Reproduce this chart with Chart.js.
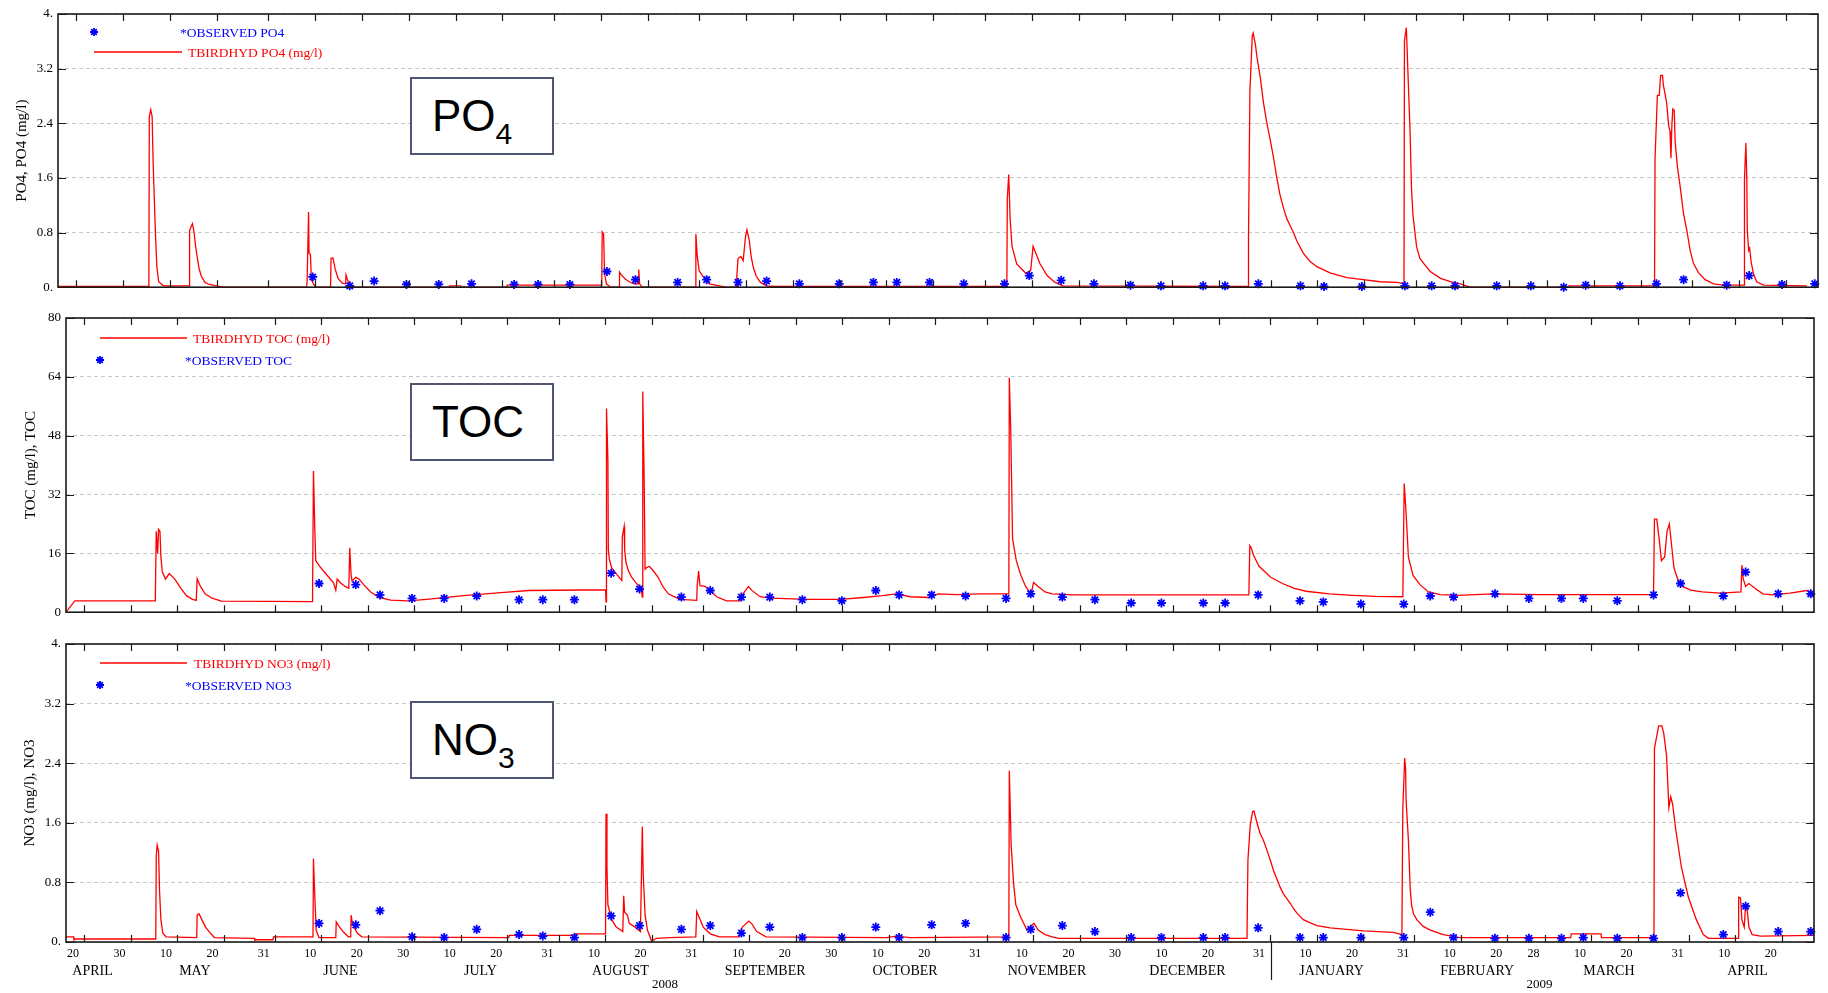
<!DOCTYPE html>
<html>
<head>
<meta charset="utf-8">
<title>TBIRDHYD PO4, TOC, NO3</title>
<script src="https://cdn.jsdelivr.net/npm/chart.js@4.4.1/dist/chart.umd.min.js"></script>
<style>
  html, body { margin: 0; padding: 0; background: #fff; }
  #page { position: relative; width: 1828px; height: 993px; overflow: hidden; }
  canvas { position: absolute; left: 0; }
  .tag { position: absolute; width: 144px; height: 78px; box-sizing: border-box; border: 2px solid #4f5674; background: #fff;
         font: 44px/74px "Liberation Sans", Arial, sans-serif; color: #000; padding-left: 20px; white-space: nowrap; }
  .tag span { font-size: 30px; position: relative; top: 13px; }
</style>
</head>
<body>
<div id="page">
  <canvas id="po4Chart" width="1828" height="300" style="top:0"></canvas>
  <canvas id="tocChart" width="1828" height="325" style="top:300px"></canvas>
  <canvas id="no3Chart" width="1828" height="368" style="top:625px"></canvas>
  <div class="tag" style="left:410px;top:77px">PO<span>4</span></div>
  <div class="tag" style="left:410px;top:383px">TOC</div>
  <div class="tag" style="left:410px;top:701px">NO<span>3</span></div>
</div>
<script>
// x values are days counted from 20 April 2008 (day 0)
const dayTicks = [0, 10, 20, 30, 41, 51, 61, 71, 81, 91, 102, 112, 122, 133, 143, 153, 163, 173, 183, 194, 204, 214, 224,
    234, 244, 255, 265, 275, 286, 296, 306, 314, 324, 334, 345, 355, 365];
const dayTickLabels = ['20', '30', '10', '20', '31', '10', '20', '30', '10', '20', '31', '10', '20', '31', '10', '20', '30',
    '10', '20', '31', '10', '20', '30', '10', '20', '31', '10', '20', '31', '10', '20', '28', '10', '20', '31', '10', '20'];
const monthDays = [4.2, 26.2, 57.5, 87.6, 117.7, 148.8, 178.9, 209.4, 239.6, 270.6, 301.9, 330.2, 360.0];
const monthNames = ['APRIL', 'MAY', 'JUNE', 'JULY', 'AUGUST', 'SEPTEMBER', 'OCTOBER', 'NOVEMBER', 'DECEMBER',
    'JANUARY', 'FEBRUARY', 'MARCH', 'APRIL'];
const yearDays = [127.3, 315.3];
const yearNames = ['2008', '2009'];

// sampling days of the observations (same for all three variables)
const obsDays = [52.9, 60.8, 66.0, 72.9, 79.8, 86.8, 95.9, 101.0, 107.8, 115.7, 121.8, 130.8, 137.0, 143.7, 149.8, 156.8,
    165.3, 172.6, 177.6, 184.6, 191.9, 200.6, 205.9, 212.7, 219.7, 227.5, 234.0, 243.0, 247.7, 254.8, 263.8, 268.8, 276.9,
    286.1, 291.8, 296.8, 305.7, 313.0, 320.0, 324.7, 332.0, 339.8, 345.6, 354.8, 359.6, 366.6, 373.6];
const po4Obs = [0.15, 0.02, 0.09, 0.04, 0.04, 0.05, 0.04, 0.04, 0.04, 0.23, 0.11, 0.07, 0.11, 0.07, 0.09, 0.05, 0.05, 0.07,
    0.07, 0.07, 0.05, 0.05, 0.17, 0.10, 0.05, 0.03, 0.02, 0.02, 0.02, 0.05, 0.02, 0.01, 0.01, 0.02, 0.02, 0.02, 0.02, 0.02,
    0.00, 0.03, 0.02, 0.05, 0.11, 0.03, 0.17, 0.04, 0.05];
const tocObs = [7.8, 7.5, 4.7, 3.75, 3.75, 4.4, 3.4, 3.4, 3.4, 10.6, 6.3, 4.1, 5.9, 4.1, 4.1, 3.4, 3.1, 5.9, 4.7, 4.7, 4.4,
    3.75, 5.0, 4.1, 3.4, 2.5, 2.5, 2.5, 2.5, 4.7, 3.1, 2.8, 2.2, 2.2, 4.4, 4.1, 5.0, 3.75, 3.75, 3.75, 3.1, 4.7, 7.8, 4.4,
    10.9, 5.0, 5.0];
const no3Obs = [0.25, 0.23, 0.42, 0.07, 0.06, 0.17, 0.10, 0.08, 0.06, 0.35, 0.22, 0.17, 0.22, 0.12, 0.20, 0.06, 0.06, 0.20,
    0.06, 0.23, 0.25, 0.06, 0.17, 0.22, 0.14, 0.06, 0.06, 0.06, 0.06, 0.19, 0.06, 0.06, 0.06, 0.06, 0.40, 0.06, 0.05, 0.05,
    0.05, 0.06, 0.05, 0.05, 0.66, 0.10, 0.48, 0.14, 0.14];

// simulated series, [day, value]
const po4Sim = [[-1.5, 0.01], [17.9, 0.01], [18.0, 2.5], [18.3, 2.6], [18.6, 2.5], [18.8, 1.85], [19.3, 0.8], [19.6, 0.3],
    [20.0, 0.08], [21.0, 0.02], [26.5, 0.02], [26.6, 0.83], [27.2, 0.93], [27.5, 0.83], [27.9, 0.59], [28.2, 0.45],
    [28.6, 0.28], [29.1, 0.16], [29.9, 0.07], [30.8, 0.04], [32.6, 0.015], [33.4, 0], [51.6, 0], [51.7, 0.11], [52.0, 1.1],
    [52.1, 0.5], [52.4, 0.48], [52.6, 0.11], [53.1, 0.04], [53.5, 0], [56.7, 0], [56.8, 0.42], [57.2, 0.43], [57.7, 0.26],
    [58.3, 0.13], [59.2, 0.06], [59.9, 0.05], [60.0, 0.18], [60.3, 0.11], [60.8, 0.03], [61.5, 0], [82.0, 0], [82.1, 0.02],
    [84.5, 0.02], [84.6, 0], [94.3, 0], [94.4, 0.03], [114.6, 0.03], [114.7, 0.81], [115.0, 0.78], [115.2, 0.2],
    [115.6, 0.05], [116.5, 0], [118.3, 0], [118.4, 0.22], [118.8, 0.18], [119.6, 0.12], [120.5, 0.08], [121.5, 0.05],
    [122.4, 0.05], [122.5, 0.26], [122.7, 0.05], [123.2, 0], [134.6, 0], [134.7, 0.78], [135.0, 0.45], [135.4, 0.24],
    [136.3, 0.15], [137.6, 0.05], [141.1, 0], [143.3, 0], [143.4, 0.11], [143.7, 0.42], [144.3, 0.45], [144.8, 0.39],
    [145.3, 0.74], [145.6, 0.84], [146.1, 0.69], [146.5, 0.45], [147.0, 0.28], [147.6, 0.16], [148.5, 0.07], [149.8, 0.02],
    [151.5, 0.01], [201.1, 0.01], [201.2, 1.3], [201.5, 1.65], [201.8, 1.0], [202.2, 0.6], [203.2, 0.34], [205.2, 0.2],
    [206.2, 0.25], [206.7, 0.6], [208.2, 0.34], [209.7, 0.17], [211.4, 0.07], [213.1, 0.02], [252.6, 0.01], [252.7, 0.73],
    [253.0, 2.87], [253.5, 3.68], [253.7, 3.72], [254.2, 3.54], [254.5, 3.37], [255.2, 3.08], [255.9, 2.70], [256.6, 2.41],
    [257.3, 2.17], [258.0, 1.91], [258.7, 1.62], [259.4, 1.36], [260.2, 1.15], [260.9, 1.0], [261.6, 0.9], [262.3, 0.8],
    [263.0, 0.68], [264.4, 0.5], [265.8, 0.38], [267.3, 0.3], [270.1, 0.21], [273.7, 0.14], [277.2, 0.11], [280.8, 0.08],
    [284.4, 0.07], [285.9, 0.05], [286.0, 3.61], [286.4, 3.80], [286.6, 3.42], [286.9, 2.84], [287.2, 2.27], [287.5, 1.45],
    [287.8, 1.07], [288.1, 0.88], [288.6, 0.59], [289.3, 0.42], [290.1, 0.35], [291.5, 0.23], [293.7, 0.13], [295.8, 0.08],
    [297.9, 0.05], [300.0, 0], [321.0, 0], [321.1, 0.02], [339.4, 0.02], [339.5, 1.87], [340.0, 2.81], [340.4, 2.81],
    [340.7, 3.10], [341.1, 3.10], [341.3, 2.95], [341.7, 2.81], [342.0, 2.69], [342.4, 2.37], [342.7, 2.28], [342.9, 1.89],
    [343.1, 2.37], [343.3, 2.61], [343.6, 2.59], [343.8, 2.13], [344.3, 1.75], [344.8, 1.51], [345.6, 1.07], [346.3, 0.83],
    [347.0, 0.54], [347.7, 0.35], [348.8, 0.21], [350.2, 0.11], [352.0, 0.05], [354.1, 0.03], [358.5, 0.03], [358.6, 1.58],
    [358.9, 2.11], [359.1, 1.58], [359.2, 0.83], [359.5, 0.54], [359.7, 0.57], [360.0, 0.38], [360.5, 0.2], [361.2, 0.08],
    [362.7, 0.03], [371.9, 0.02]];

const tocSim = [[-1.5, 0], [0.4, 3.1], [17.7, 3.1], [17.9, 22], [18.2, 16], [18.4, 22.5], [18.7, 22], [18.9, 15], [19.2, 11],
    [19.9, 9], [20.7, 10.5], [21.9, 9], [23.2, 6.5], [24.4, 4.5], [25.7, 3.5], [26.5, 3.2], [26.7, 9.1], [27.4, 7], [28.4, 5],
    [29.9, 3.8], [31.9, 3.0], [51.5, 2.9], [51.7, 38.4], [52.0, 22], [52.2, 14], [53.0, 12.5], [54.0, 11], [55.0, 9.5],
    [56.0, 8], [56.5, 6], [56.8, 9], [57.5, 8], [58.5, 7], [59.3, 6.5], [59.5, 17.5], [59.8, 10], [60.0, 8.5], [60.8, 9.5],
    [61.5, 9], [62.5, 7.5], [64.0, 5.5], [65.8, 4], [68.3, 3.3], [72.0, 3.1], [76.0, 3.5], [84.0, 4.5], [92.0, 5.3],
    [98.0, 5.9], [114.5, 6.1], [114.6, 2.8], [114.7, 55.4], [115.0, 41.6], [115.1, 17.0], [115.3, 14.5], [115.8, 12.1],
    [116.9, 10.3], [118.0, 8.6], [118.1, 20.6], [118.5, 23.3], [118.6, 17.0], [118.9, 13.5], [119.4, 11.3], [120.1, 9.5],
    [121.2, 7.7], [122.1, 6.8], [122.4, 4.1], [122.5, 60.0], [122.8, 35.8], [123.0, 11.7], [123.3, 12.1], [123.9, 12.5],
    [124.8, 11.2], [125.8, 9.5], [126.9, 6.8], [128.0, 5.0], [129.1, 4.3], [130.5, 3.5], [134.1, 3.2], [134.2, 7.2],
    [134.5, 11.2], [134.8, 7.2], [135.9, 7.0], [137.0, 5.9], [138.4, 4.2], [140.5, 3.1], [143.4, 3.1], [143.8, 4.5],
    [145.2, 7.0], [145.9, 6.0], [147.7, 4.2], [150, 3.8], [158, 3.5], [165, 3.5], [170, 4.0], [174, 4.5], [177, 5.0],
    [180, 4.2], [184, 4.0], [186, 5.0], [190, 4.8], [195, 5.0], [201.2, 5.0], [201.3, 63.75], [201.6, 50], [202.0, 20],
    [202.8, 14], [203.8, 10], [204.8, 7], [205.6, 5.5], [206.1, 5.5], [206.5, 8.1], [207.5, 7.0], [209, 5.5], [210.5, 5.0],
    [215, 4.7], [252.8, 4.7], [253.0, 18.1], [253.3, 17.5], [253.8, 15.5], [255.0, 12.5], [257.5, 9.5], [260.0, 7.8],
    [262.6, 6.5], [265.1, 5.7], [270.1, 5.0], [275.1, 4.6], [280.1, 4.3], [285.9, 4.2], [286.2, 35], [286.6, 27],
    [287.1, 15], [288.1, 10], [289.6, 7.5], [291.4, 5.5], [293.9, 4.8], [297.7, 4.6], [305.2, 5.0], [315.2, 4.8],
    [325.2, 4.8], [339.8, 4.8], [340.0, 25.3], [340.5, 25.3], [341.0, 20], [341.5, 14], [342.2, 15], [342.7, 22],
    [343.2, 24], [343.7, 18], [344.2, 12], [345.0, 9], [346.0, 7], [347.8, 6], [350.3, 5.5], [354.1, 5.2], [358.6, 5.5],
    [358.8, 12.8], [359.1, 9], [359.6, 7], [360.3, 7.8], [361.6, 6.5], [363.3, 5], [365.3, 4.7], [369.1, 5.2],
    [372.8, 5.9], [374.3, 5.0]];

const no3Sim = [[-1.5, 0.07], [0.1, 0.07], [0.2, 0.04], [17.8, 0.04], [17.9, 1.15], [18.1, 1.3], [18.4, 1.22], [18.6, 0.7],
    [18.9, 0.3], [19.3, 0.12], [20.0, 0.07], [26.6, 0.06], [26.7, 0.36], [27.1, 0.38], [27.7, 0.3], [28.5, 0.2],
    [29.4, 0.13], [30.4, 0.06], [39.0, 0.05], [39.1, 0.03], [43.0, 0.03], [43.1, 0.07], [51.6, 0.07], [51.7, 1.12],
    [52.0, 0.6], [52.3, 0.15], [52.9, 0.06], [56.5, 0.06], [56.6, 0.27], [57.3, 0.2], [58.2, 0.13], [59.2, 0.07],
    [59.7, 0.07], [59.8, 0.36], [60.1, 0.24], [61.1, 0.12], [62.1, 0.07], [93.7, 0.06], [93.8, 0.09], [108.0, 0.09],
    [108.1, 0.11], [114.5, 0.11], [114.6, 1.72], [114.8, 1.0], [115.0, 0.5], [115.8, 0.3], [116.8, 0.2], [118.2, 0.14],
    [118.4, 0.62], [118.6, 0.4], [119.2, 0.36], [119.6, 0.25], [120.6, 0.21], [122.0, 0.14], [122.4, 1.55], [122.6, 0.9],
    [123.0, 0.36], [123.5, 0.16], [124.4, 0.01], [125.4, 0.05], [128.3, 0.06], [133.9, 0.07], [134.1, 0.41], [134.5, 0.35],
    [135.5, 0.2], [137.0, 0.11], [139.0, 0.07], [143.2, 0.07], [143.9, 0.2], [145.3, 0.28], [146.0, 0.24], [147.0, 0.14],
    [149.0, 0.07], [175.0, 0.06], [177.0, 0.08], [180.0, 0.06], [201.2, 0.07], [201.3, 2.3], [201.7, 1.3], [202.2, 0.8],
    [202.7, 0.5], [203.7, 0.34], [205.1, 0.16], [206.6, 0.25], [207.5, 0.16], [209.0, 0.1], [210.5, 0.07], [211.9, 0.05],
    [252.4, 0.05], [252.6, 1.10], [253.1, 1.57], [253.6, 1.75], [253.9, 1.76], [254.5, 1.61], [255.2, 1.46], [255.9, 1.37],
    [256.7, 1.23], [257.4, 1.10], [258.1, 0.96], [258.8, 0.85], [259.5, 0.74], [260.2, 0.65], [261.0, 0.58], [261.7, 0.52],
    [262.4, 0.45], [263.1, 0.39], [264.5, 0.30], [265.9, 0.26], [267.4, 0.22], [270.3, 0.19], [273.8, 0.17], [277.4, 0.15],
    [283.9, 0.13], [285.7, 0.10], [285.9, 1.79], [286.3, 2.47], [286.5, 2.31], [286.6, 1.91], [287.1, 1.37], [287.5, 0.70],
    [287.8, 0.49], [288.2, 0.38], [288.9, 0.30], [290.3, 0.21], [291.8, 0.16], [294.6, 0.10], [298.2, 0.06], [322.0, 0.06],
    [322.1, 0.11], [328.5, 0.11], [328.6, 0.06], [339.9, 0.06], [340.0, 2.6], [340.9, 2.9], [341.6, 2.9], [342.0, 2.8],
    [342.6, 2.5], [343.1, 1.8], [343.5, 1.95], [343.9, 1.85], [344.6, 1.5], [345.8, 1.0], [347.3, 0.6], [349.0, 0.3],
    [350.5, 0.1], [351.6, 0.05], [358.0, 0.05], [358.1, 0.6], [358.5, 0.59], [358.8, 0.3], [359.3, 0.2], [359.6, 0.5],
    [359.9, 0.45], [360.3, 0.2], [361.0, 0.1], [362.8, 0.08], [374.3, 0.09]];

const po4Ticks = [0, 0.8, 1.6, 2.4, 3.2, 4];
const po4TickLabels = ['0.', '0.8', '1.6', '2.4', '3.2', '4.'];
const tocTicks = [0, 16, 32, 48, 64, 80];
const tocTickLabels = ['0', '16', '32', '48', '64', '80'];
const no3Ticks = [0, 0.8, 1.6, 2.4, 3.2, 4];
const no3TickLabels = ['0.', '0.8', '1.6', '2.4', '3.2', '4.'];

const serif = '"Liberation Serif", "Times New Roman", serif';
Chart.defaults.font.family = serif;
Chart.defaults.color = '#000';

const xMin = -1.5, xMax = 374.3;
const markShift = 2.4;      // tick marks sit a little right of their labels
const yearBreak = 257.5;    // divider between 2008 and 2009 under the bottom axis

function fixedTicks(values) {
    return scale => { scale.ticks = values.map(v => ({ value: v })); };
}

function drawStar(ctx, x, y, r) {
    const d = r * Math.SQRT1_2;
    ctx.beginPath();
    ctx.moveTo(x - r, y); ctx.lineTo(x + r, y);
    ctx.moveTo(x, y - r); ctx.lineTo(x, y + r);
    ctx.moveTo(x - d, y - d); ctx.lineTo(x + d, y + d);
    ctx.moveTo(x - d, y + d); ctx.lineTo(x + d, y - d);
    ctx.stroke();
}

// box around the plot, inward tick marks and the year divider
const framePlugin = {
    id: 'frame',
    afterDraw(chart, args, opts) {
        const { ctx, chartArea: a, scales } = chart;
        ctx.save();
        ctx.strokeStyle = '#1a1a1a';
        ctx.lineWidth = 1.2;
        ctx.beginPath();
        scales.x.ticks.forEach(t => {
            const px = Math.round(scales.x.getPixelForValue(t.value + markShift)) + 0.5;
            ctx.moveTo(px, a.top); ctx.lineTo(px, a.top + 7);
            ctx.moveTo(px, a.bottom); ctx.lineTo(px, a.bottom - 7);
        });
        scales.y.ticks.forEach(t => {
            const py = Math.round(scales.y.getPixelForValue(t.value)) + 0.5;
            ctx.moveTo(a.left, py); ctx.lineTo(a.left + 8, py);
            ctx.moveTo(a.right, py); ctx.lineTo(a.right - 8, py);
        });
        if (opts.divider) {
            const px = Math.round(scales.x.getPixelForValue(yearBreak)) + 0.5;
            ctx.moveTo(px, a.bottom); ctx.lineTo(px, a.bottom + 38);
        }
        ctx.stroke();
        ctx.lineWidth = 1.6;
        ctx.strokeRect(a.left, a.top, a.right - a.left, a.bottom - a.top);
        ctx.restore();
    }
};

// legend in the top left corner, drawn the way the source plot has it
const keyPlugin = {
    id: 'key',
    afterDraw(chart, args, opts) {
        const ctx = chart.ctx;
        ctx.save();
        ctx.font = '13.5px ' + serif;
        ctx.textBaseline = 'middle';
        opts.rows.forEach(r => {
            ctx.strokeStyle = r.color;
            ctx.fillStyle = r.color;
            if (r.kind === 'line') {
                ctx.lineWidth = 1.5;
                ctx.beginPath();
                ctx.moveTo(r.x0, r.y); ctx.lineTo(r.x1, r.y);
                ctx.stroke();
            } else {
                ctx.lineWidth = 1.8;
                drawStar(ctx, r.x0, r.y, 4);
            }
            ctx.fillText(r.text, r.tx, r.y + 1);
        });
        ctx.restore();
    }
};

function dayAxis(showLabels, height) {
    return {
        type: 'linear', min: xMin, max: xMax, position: 'bottom', weight: 0,
        grid: { display: false, drawTicks: false }, border: { display: false },
        afterBuildTicks: fixedTicks(dayTicks),
        afterFit: s => { s.height = height; },
        ticks: { display: showLabels, autoSkip: false, maxRotation: 0, padding: 5, font: { size: 12 },
                 callback: (v, i) => dayTickLabels[i] }
    };
}

function labelAxis(days, names, weight, height, padding, size) {
    return {
        type: 'linear', min: xMin, max: xMax, position: 'bottom', weight: weight,
        grid: { display: false, drawTicks: false }, border: { display: false },
        afterBuildTicks: fixedTicks(days),
        afterFit: s => { s.height = height; },
        ticks: { autoSkip: false, maxRotation: 0, padding: padding, font: { size: size },
                 callback: (v, i) => names[i] }
    };
}

function valueAxis(ticks, labels, max, title, width, titlePad) {
    return {
        type: 'linear', min: 0, max: max, position: 'left',
        afterBuildTicks: fixedTicks(ticks),
        afterFit: s => { s.width = width; },
        grid: { color: '#c8c8c8', lineWidth: 1, drawTicks: false },
        border: { display: false, dash: [4, 3] },
        ticks: { padding: 5, font: { size: 13 }, callback: (v, i) => labels[i] },
        title: { display: true, text: title, font: { size: 15 }, padding: { top: titlePad, bottom: 0 } }
    };
}

function obsSet(label, values) {
    return {
        label: label,
        data: obsDays.map((d, i) => ({ x: d, y: values[i] })),
        showLine: false, pointStyle: 'star', pointRadius: 4.5, pointBorderWidth: 1.8,
        borderColor: '#0000ff', backgroundColor: '#0000ff', clip: false
    };
}

function simSet(label, series) {
    return {
        label: label,
        data: series.map(p => ({ x: p[0], y: p[1] })),
        borderColor: '#ff0000', borderWidth: 1.3, pointRadius: 0, tension: 0, fill: false
    };
}

function createPanel(id, datasets, scales, padding, plugins) {
    new Chart(document.getElementById(id).getContext('2d'), {
        type: 'line',
        data: { datasets: datasets },
        options: {
            responsive: false, animation: false, devicePixelRatio: 1, events: [],
            layout: { padding: padding },
            plugins: Object.assign({ legend: { display: false }, tooltip: { enabled: false } }, plugins),
            scales: scales
        },
        plugins: [framePlugin, keyPlugin]
    });
}

createPanel('po4Chart',
    [obsSet('OBSERVED PO4', po4Obs), simSet('TBIRDHYD PO4 (mg/l)', po4Sim)],
    { x: dayAxis(false, 9), y: valueAxis(po4Ticks, po4TickLabels, 4, 'PO4, PO4 (mg/l)', 58, 13) },
    { top: 14, right: 10, left: 0, bottom: 0 },
    { frame: {}, key: { rows: [
        { kind: 'star', x0: 94, y: 32, tx: 180, text: '*OBSERVED PO4', color: '#0000ff' },
        { kind: 'line', x0: 94, x1: 182, y: 52, tx: 188, text: 'TBIRDHYD PO4 (mg/l)', color: '#ff0000' }
    ] } });

createPanel('tocChart',
    [obsSet('OBSERVED TOC', tocObs), simSet('TBIRDHYD TOC (mg/l)', tocSim)],
    { x: dayAxis(false, 8), y: valueAxis(tocTicks, tocTickLabels, 80, 'TOC (mg/l), TOC', 66, 22) },
    { top: 18, right: 14, left: 0, bottom: 0 },
    { frame: {}, key: { rows: [
        { kind: 'line', x0: 100, x1: 187, y: 38, tx: 193, text: 'TBIRDHYD TOC (mg/l)', color: '#ff0000' },
        { kind: 'star', x0: 100, y: 60, tx: 185, text: '*OBSERVED TOC', color: '#0000ff' }
    ] } });

createPanel('no3Chart',
    [obsSet('OBSERVED NO3', no3Obs), simSet('TBIRDHYD NO3 (mg/l)', no3Sim)],
    {
        x: dayAxis(true, 20),
        xm: labelAxis(monthDays, monthNames, 1, 15, 1, 14),
        xy: labelAxis(yearDays, yearNames, 2, 16, 0, 13),
        y: valueAxis(no3Ticks, no3TickLabels, 4, 'NO3 (mg/l), NO3', 66, 21)
    },
    { top: 19, right: 14, left: 0, bottom: 0 },
    { frame: { divider: true }, key: { rows: [
        { kind: 'line', x0: 100, x1: 187, y: 38, tx: 194, text: 'TBIRDHYD NO3 (mg/l)', color: '#ff0000' },
        { kind: 'star', x0: 100, y: 60, tx: 185, text: '*OBSERVED NO3', color: '#0000ff' }
    ] } });
</script>
</body>
</html>
